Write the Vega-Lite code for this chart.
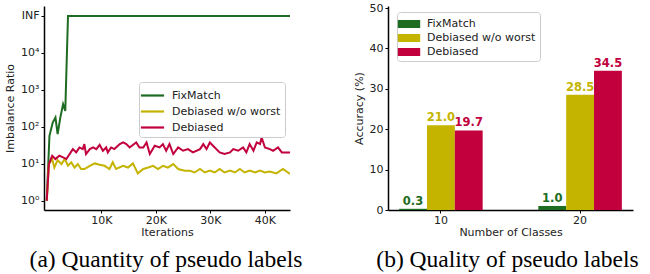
{
  "$schema": "https://vega.github.io/schema/vega-lite/v6.json",
  "padding": {"left": 4, "top": 2, "right": 5, "bottom": 0},
  "bounds": "flush",
  "spacing": 98,
  "datasets": {
    "lines": [
      {"series": "FixMatch", "iter": 0, "ratio": 1},
      {"series": "FixMatch", "iter": 500, "ratio": 57},
      {"series": "FixMatch", "iter": 1100, "ratio": 130},
      {"series": "FixMatch", "iter": 1600, "ratio": 178},
      {"series": "FixMatch", "iter": 2000, "ratio": 63},
      {"series": "FixMatch", "iter": 2500, "ratio": 180},
      {"series": "FixMatch", "iter": 3000, "ratio": 410},
      {"series": "FixMatch", "iter": 3400, "ratio": 270},
      {"series": "FixMatch", "iter": 3900, "ratio": 100000},
      {"series": "FixMatch", "iter": 44600, "ratio": 100000},
      {"series": "Debiased w/o worst", "iter": 0, "ratio": 1},
      {"series": "Debiased w/o worst", "iter": 400, "ratio": 9.8},
      {"series": "Debiased w/o worst", "iter": 1000, "ratio": 13.4},
      {"series": "Debiased w/o worst", "iter": 1400, "ratio": 7.9},
      {"series": "Debiased w/o worst", "iter": 2000, "ratio": 12.5},
      {"series": "Debiased w/o worst", "iter": 2700, "ratio": 9.8},
      {"series": "Debiased w/o worst", "iter": 3300, "ratio": 13.4},
      {"series": "Debiased w/o worst", "iter": 3900, "ratio": 8.8},
      {"series": "Debiased w/o worst", "iter": 4500, "ratio": 10.9},
      {"series": "Debiased w/o worst", "iter": 5100, "ratio": 7.9},
      {"series": "Debiased w/o worst", "iter": 5700, "ratio": 9.8},
      {"series": "Debiased w/o worst", "iter": 6300, "ratio": 7.2},
      {"series": "Debiased w/o worst", "iter": 6900, "ratio": 7.2},
      {"series": "Debiased w/o worst", "iter": 7900, "ratio": 8.8},
      {"series": "Debiased w/o worst", "iter": 8800, "ratio": 10.2},
      {"series": "Debiased w/o worst", "iter": 9700, "ratio": 9.4},
      {"series": "Debiased w/o worst", "iter": 10600, "ratio": 8.8},
      {"series": "Debiased w/o worst", "iter": 11500, "ratio": 7.2},
      {"series": "Debiased w/o worst", "iter": 12100, "ratio": 10.9},
      {"series": "Debiased w/o worst", "iter": 12700, "ratio": 7.2},
      {"series": "Debiased w/o worst", "iter": 14000, "ratio": 8.8},
      {"series": "Debiased w/o worst", "iter": 14900, "ratio": 7.9},
      {"series": "Debiased w/o worst", "iter": 15800, "ratio": 10.2},
      {"series": "Debiased w/o worst", "iter": 16700, "ratio": 5.5},
      {"series": "Debiased w/o worst", "iter": 17700, "ratio": 7.2},
      {"series": "Debiased w/o worst", "iter": 18600, "ratio": 7.9},
      {"series": "Debiased w/o worst", "iter": 19500, "ratio": 8.8},
      {"series": "Debiased w/o worst", "iter": 20400, "ratio": 7.2},
      {"series": "Debiased w/o worst", "iter": 21300, "ratio": 8.8},
      {"series": "Debiased w/o worst", "iter": 22200, "ratio": 7.9},
      {"series": "Debiased w/o worst", "iter": 23200, "ratio": 9.8},
      {"series": "Debiased w/o worst", "iter": 24100, "ratio": 7.2},
      {"series": "Debiased w/o worst", "iter": 25300, "ratio": 6.5},
      {"series": "Debiased w/o worst", "iter": 26200, "ratio": 6.5},
      {"series": "Debiased w/o worst", "iter": 27100, "ratio": 5.8},
      {"series": "Debiased w/o worst", "iter": 28100, "ratio": 7.2},
      {"series": "Debiased w/o worst", "iter": 29000, "ratio": 5.8},
      {"series": "Debiased w/o worst", "iter": 29900, "ratio": 6.5},
      {"series": "Debiased w/o worst", "iter": 30800, "ratio": 5.8},
      {"series": "Debiased w/o worst", "iter": 31700, "ratio": 7.2},
      {"series": "Debiased w/o worst", "iter": 32600, "ratio": 5.8},
      {"series": "Debiased w/o worst", "iter": 33600, "ratio": 6.5},
      {"series": "Debiased w/o worst", "iter": 34500, "ratio": 5.8},
      {"series": "Debiased w/o worst", "iter": 35400, "ratio": 7.2},
      {"series": "Debiased w/o worst", "iter": 36300, "ratio": 5.8},
      {"series": "Debiased w/o worst", "iter": 37200, "ratio": 6.5},
      {"series": "Debiased w/o worst", "iter": 38200, "ratio": 5.8},
      {"series": "Debiased w/o worst", "iter": 39100, "ratio": 6.5},
      {"series": "Debiased w/o worst", "iter": 40000, "ratio": 5.8},
      {"series": "Debiased w/o worst", "iter": 40900, "ratio": 6.2},
      {"series": "Debiased w/o worst", "iter": 42100, "ratio": 5.5},
      {"series": "Debiased w/o worst", "iter": 43300, "ratio": 7.2},
      {"series": "Debiased w/o worst", "iter": 44600, "ratio": 5.3},
      {"series": "Debiased", "iter": 0, "ratio": 1},
      {"series": "Debiased", "iter": 400, "ratio": 9.8},
      {"series": "Debiased", "iter": 1000, "ratio": 16.5},
      {"series": "Debiased", "iter": 1600, "ratio": 13.4},
      {"series": "Debiased", "iter": 2300, "ratio": 16.5},
      {"series": "Debiased", "iter": 3000, "ratio": 14.8},
      {"series": "Debiased", "iter": 3600, "ratio": 13.4},
      {"series": "Debiased", "iter": 4200, "ratio": 18.3},
      {"series": "Debiased", "iter": 4800, "ratio": 24.9},
      {"series": "Debiased", "iter": 5400, "ratio": 20.3},
      {"series": "Debiased", "iter": 6000, "ratio": 27.6},
      {"series": "Debiased", "iter": 6600, "ratio": 24.9},
      {"series": "Debiased", "iter": 6900, "ratio": 34},
      {"series": "Debiased", "iter": 7200, "ratio": 18.3},
      {"series": "Debiased", "iter": 7900, "ratio": 24.9},
      {"series": "Debiased", "iter": 8500, "ratio": 27.6},
      {"series": "Debiased", "iter": 9100, "ratio": 24.9},
      {"series": "Debiased", "iter": 9700, "ratio": 32.6},
      {"series": "Debiased", "iter": 10300, "ratio": 22.5},
      {"series": "Debiased", "iter": 10900, "ratio": 27.6},
      {"series": "Debiased", "iter": 11200, "ratio": 20.3},
      {"series": "Debiased", "iter": 11800, "ratio": 27.6},
      {"series": "Debiased", "iter": 12400, "ratio": 24.9},
      {"series": "Debiased", "iter": 13400, "ratio": 34},
      {"series": "Debiased", "iter": 14000, "ratio": 37.7},
      {"series": "Debiased", "iter": 14600, "ratio": 34},
      {"series": "Debiased", "iter": 15200, "ratio": 27.6},
      {"series": "Debiased", "iter": 16400, "ratio": 37.7},
      {"series": "Debiased", "iter": 17000, "ratio": 27.6},
      {"series": "Debiased", "iter": 17700, "ratio": 27.6},
      {"series": "Debiased", "iter": 18300, "ratio": 37.7},
      {"series": "Debiased", "iter": 18900, "ratio": 18.3},
      {"series": "Debiased", "iter": 19800, "ratio": 30.6},
      {"series": "Debiased", "iter": 20700, "ratio": 27.6},
      {"series": "Debiased", "iter": 21300, "ratio": 34},
      {"series": "Debiased", "iter": 21900, "ratio": 22.5},
      {"series": "Debiased", "iter": 22500, "ratio": 34},
      {"series": "Debiased", "iter": 23200, "ratio": 18.3},
      {"series": "Debiased", "iter": 24100, "ratio": 27.6},
      {"series": "Debiased", "iter": 25000, "ratio": 22.5},
      {"series": "Debiased", "iter": 25900, "ratio": 24.9},
      {"series": "Debiased", "iter": 26800, "ratio": 20.3},
      {"series": "Debiased", "iter": 28100, "ratio": 24.9},
      {"series": "Debiased", "iter": 28700, "ratio": 34},
      {"series": "Debiased", "iter": 29300, "ratio": 24.9},
      {"series": "Debiased", "iter": 29900, "ratio": 37.7},
      {"series": "Debiased", "iter": 30800, "ratio": 27.6},
      {"series": "Debiased", "iter": 31700, "ratio": 20.3},
      {"series": "Debiased", "iter": 32600, "ratio": 18.3},
      {"series": "Debiased", "iter": 33600, "ratio": 20.3},
      {"series": "Debiased", "iter": 34200, "ratio": 24.9},
      {"series": "Debiased", "iter": 35100, "ratio": 22.5},
      {"series": "Debiased", "iter": 36000, "ratio": 27.6},
      {"series": "Debiased", "iter": 36600, "ratio": 20.3},
      {"series": "Debiased", "iter": 37200, "ratio": 34},
      {"series": "Debiased", "iter": 37900, "ratio": 22.5},
      {"series": "Debiased", "iter": 38500, "ratio": 37.7},
      {"series": "Debiased", "iter": 39100, "ratio": 34},
      {"series": "Debiased", "iter": 39400, "ratio": 51.5},
      {"series": "Debiased", "iter": 40000, "ratio": 27.6},
      {"series": "Debiased", "iter": 40900, "ratio": 24.9},
      {"series": "Debiased", "iter": 41500, "ratio": 22.5},
      {"series": "Debiased", "iter": 42400, "ratio": 27.6},
      {"series": "Debiased", "iter": 43100, "ratio": 20.3},
      {"series": "Debiased", "iter": 44600, "ratio": 20.3}
    ],
    "bars": [
      {"classes": "10", "method": "FixMatch", "acc": 0.3, "label": "0.3"},
      {"classes": "10", "method": "Debiased w/o worst", "acc": 21.0, "label": "21.0"},
      {"classes": "10", "method": "Debiased", "acc": 19.7, "label": "19.7"},
      {"classes": "20", "method": "FixMatch", "acc": 1.0, "label": "1.0"},
      {"classes": "20", "method": "Debiased w/o worst", "acc": 28.5, "label": "28.5"},
      {"classes": "20", "method": "Debiased", "acc": 34.5, "label": "34.5"}
    ]
  },
  "config": {
    "view": {"stroke": null},
    "font": "DejaVu Sans",
    "axis": {
      "grid": false,
      "domainColor": "black",
      "domainWidth": 1.5,
      "tickColor": "black",
      "tickSize": 3,
      "labelFontSize": 11,
      "labelColor": "#222",
      "titleFontSize": 11,
      "titleFontWeight": "normal",
      "titleColor": "#222",
      "labelFont": "DejaVu Sans",
      "titleFont": "DejaVu Sans"
    },
    "axisX": {"labelPadding": 1, "titlePadding": 1},
    "legend": {
      "labelFontSize": 11,
      "labelFont": "DejaVu Sans",
      "labelColor": "#222",
      "strokeColor": "#cccccc",
      "fillColor": "white",
      "cornerRadius": 3,
      "padding": 4,
      "labelOffset": 10,
      "title": null
    },
    "title": {
      "font": "Liberation Serif",
      "fontSize": 23.5,
      "fontWeight": "normal",
      "color": "black",
      "orient": "bottom",
      "anchor": "middle",
      "frame": "group"
    }
  },
  "hconcat": [
    {
      "width": 246,
      "height": 204,
      "title": {"text": "(a) Quantity of pseudo labels", "offset": 11, "dx": -1},
      "data": {"name": "lines"},
      "mark": {"type": "line", "strokeWidth": 2, "clip": true},
      "encoding": {
        "x": {
          "field": "iter", "type": "quantitative",
          "scale": {"domain": [-500, 44600], "nice": false, "zero": false},
          "axis": {"values": [10000, 20000, 30000, 40000], "labelExpr": "datum.value/1000 + 'K'", "title": "Iterations"}
        },
        "y": {
          "field": "ratio", "type": "quantitative",
          "scale": {"type": "log", "domain": [0.56, 186000], "nice": false},
          "axis": {"values": [1, 10, 100, 1000, 10000, 100000], "labelExpr": "datum.value >= 100000 ? 'INF' : '10' + ['⁰','¹','²','³','⁴'][round(log(datum.value)/LN10)]", "title": "Imbalance Ratio", "titlePadding": 5}
        },
        "color": {
          "field": "series", "type": "nominal",
          "scale": {"domain": ["FixMatch", "Debiased w/o worst", "Debiased"], "range": ["#1e6b22", "#c4b400", "#c1003d"]},
          "legend": {"orient": "none", "legendX": 95, "legendY": 76, "symbolType": "M-1.45,0H1.45", "symbolSize": 256, "symbolStrokeWidth": 2.2, "rowPadding": 1}
        }
      }
    },
    {
      "width": 245,
      "height": 204,
      "title": {"text": "(b) Quality of pseudo labels", "offset": 11, "dx": -3},
      "data": {"name": "bars"},
      "encoding": {
        "x": {
          "field": "classes", "type": "nominal",
          "scale": {"paddingInner": 0.4, "paddingOuter": 0.08},
          "axis": {"labelAngle": 0, "title": "Number of Classes"}
        },
        "xOffset": {"field": "method", "type": "nominal", "sort": ["FixMatch", "Debiased w/o worst", "Debiased"]},
        "y": {
          "field": "acc", "type": "quantitative",
          "scale": {"domain": [0, 50.5], "nice": false},
          "axis": {"values": [0, 10, 20, 30, 40, 50], "title": "Accuracy (%)", "titlePadding": 5}
        },
        "color": {
          "field": "method", "type": "nominal",
          "scale": {"domain": ["FixMatch", "Debiased w/o worst", "Debiased"], "range": ["#1e6b22", "#c4b400", "#c1003d"]}
        }
      },
      "layer": [
        {
          "mark": {"type": "bar"},
          "encoding": {
            "color": {
              "field": "method", "type": "nominal",
              "scale": {"domain": ["FixMatch", "Debiased w/o worst", "Debiased"], "range": ["#1e6b22", "#c4b400", "#c1003d"]},
              "legend": {"orient": "none", "legendX": 9, "legendY": 6, "symbolType": "M-1.4,-0.5H1.4V0.5H-1.4Z", "symbolSize": 256, "rowPadding": 1, "symbolStrokeWidth": 0}
            }
          }
        },
        {
          "mark": {"type": "text", "baseline": "bottom", "dy": -2, "fontWeight": "bold", "fontSize": 11.5, "font": "DejaVu Sans"},
          "encoding": {"text": {"field": "label"}}
        }
      ]
    }
  ],
  "resolve": {"scale": {"color": "independent"}, "legend": {"color": "independent"}}
}
